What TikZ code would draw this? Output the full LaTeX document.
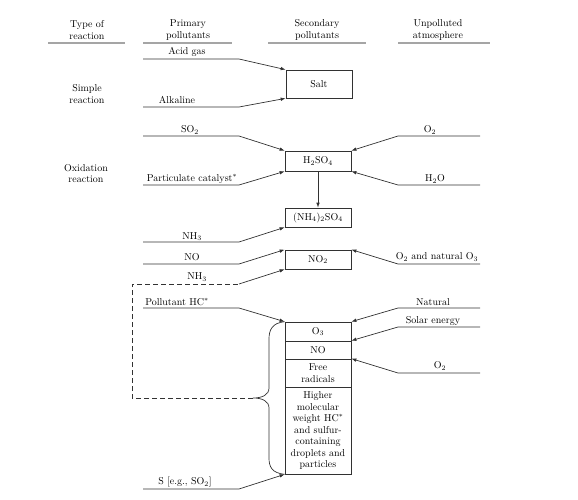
\documentclass[tikz,border=0pt]{standalone}
\usepackage{amsmath}
\usepackage{tikz}
\usetikzlibrary{arrows.meta, positioning, calc}
\definecolor{pollink}{RGB}{50, 50, 50}
\definecolor{pollrule}{RGB}{165, 165, 165}

\begin{document}
\begin{tikzpicture}[x=1pt,y=-1pt,
  font=\fontsize{10}{11.5}\selectfont,
  >={Latex[length=5pt,width=3.6pt]},
  box/.style={draw=pollink,line width=0.7pt,minimum width=66pt,inner sep=1pt,align=center},
  feed/.style={draw=pollink,line width=0.7pt},
  hrule/.style={draw=pollrule,line width=1.4pt}]
\useasboundingbox (0,0) rectangle (578,500);
% Column heads
\node[align=center] (typehd) at (87,30) {Type of\\reaction};
\node[align=center] (primhd) at (188,30) {Primary\\pollutants};
\node[align=center] (sechd) at (317,30) {Secondary\\pollutants};
\node[align=center] (atmhd) at (438,30) {Unpolluted\\atmosphere};
\draw[hrule] (48,43) -- (125,43);
\draw[hrule] (143,43) -- (232,43);
\draw[hrule] (268,43) -- (366,43);
\draw[hrule] (398,43) -- (490,43);
% Reaction types
\node[align=center] (simple) at (87,94) {Simple\\reaction};
\node[align=center] (oxid) at (86,173.5) {Oxidation\\reaction};
% Secondary pollutants
\node[box,minimum height=28pt] (salt) at (319,84) {Salt};
\node[box,minimum height=20pt] (sulf) at (318,161) {H$_2$SO$_4$};
\node[box,minimum height=19pt] (amsulf) at (318,217.5) {(NH$_4$)$_2$SO$_4$};
\node[box,minimum height=19pt] (nodio) at (318,259.5) {NO$_2$};
\node[box,minimum height=19pt] (ozone) at (318,331.5) {O$_3$};
\node[box,minimum height=18pt] (nomon) at (318,350) {NO};
\node[box,minimum height=28pt] (radic) at (318,373) {Free\\radicals};
\node[box,minimum height=87pt] (heavy) at (318,430.5) {Higher\\molecular\\weight HC$^*$\\and sulfur-\\containing\\droplets and\\particles};
% Primary pollutants
\node (acidlbl) at (187,52) {Acid gas};
\node (alklbl) at (177,100) {Alkaline};
\node (so2lbl) at (190,130) {SO$_2$};
\node (catlbl) at (192,179) {Particulate catalyst$^*$};
\node (nh3lbl) at (192,236.5) {NH$_3$};
\node (nolbl) at (192,257.5) {NO};
\node (nh3blbl) at (197,277) {NH$_3$};
\node (hclbl) at (177,302) {Pollutant HC$^*$};
\node (slbl) at (185,482) {S [e.g., SO$_2$]};
\coordinate (acid0) at (143,59);  \coordinate (acid1) at (239,59);
\coordinate (alk0) at (143,107);  \coordinate (alk1) at (239,107);
\coordinate (so20) at (143,136);  \coordinate (so21) at (239,136);
\coordinate (cat0) at (143,185);  \coordinate (cat1) at (239,185);
\coordinate (nh30) at (143,242);  \coordinate (nh31) at (239,242);
\coordinate (no0) at (143,264);   \coordinate (no1) at (239,264);
\coordinate (nh3b0) at (132,284); \coordinate (nh3b1) at (239,284);
\coordinate (hc0) at (143,308);   \coordinate (hc1) at (239,308);
\coordinate (s0) at (143,489);    \coordinate (s1) at (239,489);
\draw[feed,->] (acid0) -- (acid1) -- (salt.north west);
\draw[feed,->] (alk0) -- (alk1) -- (salt.south west);
\draw[feed,->] (so20) -- (so21) -- (sulf.north west);
\draw[feed,->] (cat0) -- (cat1) -- (sulf.south west);
\draw[feed,->] (nh30) -- (nh31) -- (amsulf.south west);
\draw[feed,->] (no0) -- (no1) -- (nodio.north west);
\draw[feed,->] (nh3b1) -- (nodio.south west);
\draw[feed,->] (hc0) -- (hc1) -- (ozone.north west);
\draw[feed,->] (s0) -- (s1) -- (heavy.south west);
\draw[feed,->] (sulf) -- (amsulf);
% Unpolluted atmosphere
\node (o2lbl) at (430,130) {O$_2$};
\node (h2olbl) at (435,179) {H$_2$O};
\node (o3lbl) at (437,257) {O$_2$ and natural O$_3$};
\node (natlbl) at (433,302) {Natural};
\node (sunlbl) at (433,321) {Solar energy};
\node (o2blbl) at (440,366) {O$_2$};
\coordinate (o20) at (480,136);  \coordinate (o21) at (398,136);
\coordinate (h2o0) at (480,185); \coordinate (h2o1) at (398,185);
\coordinate (o30) at (480,264);  \coordinate (o31) at (398,264);
\coordinate (nat0) at (480,308); \coordinate (nat1) at (398,308);
\coordinate (sun0) at (480,327); \coordinate (sun1) at (398,327);
\coordinate (o2b0) at (480,373); \coordinate (o2b1) at (398,373);
\draw[feed,->] (o20) -- (o21) -- (sulf.north east);
\draw[feed,->] (h2o0) -- (h2o1) -- (sulf.south east);
\draw[feed,->] (o30) -- (o31) -- (nodio.north east);
\draw[feed,->] (nat0) -- (nat1) -- (ozone.north east);
\draw[feed,->] (sun0) -- (sun1) -- (nomon.north east);
\draw[feed,->] (o2b0) -- (o2b1) -- (radic.north east);
% Brace and feedback
\coordinate (bracetip) at (253,398);
\draw[feed] (ozone.north west) .. controls (272,323) and (269,330) .. (269,339)
  -- (269,388) .. controls (269,395) and (262,398) .. (bracetip)
  .. controls (262,398) and (269,401) .. (269,408)
  -- (269,458) .. controls (269,467) and (272,473) .. (heavy.south west);
\draw[feed,dash pattern=on 5pt off 3pt] (bracetip) -| (nh3b0) -- (nh3b1);
\end{tikzpicture}
\end{document}
